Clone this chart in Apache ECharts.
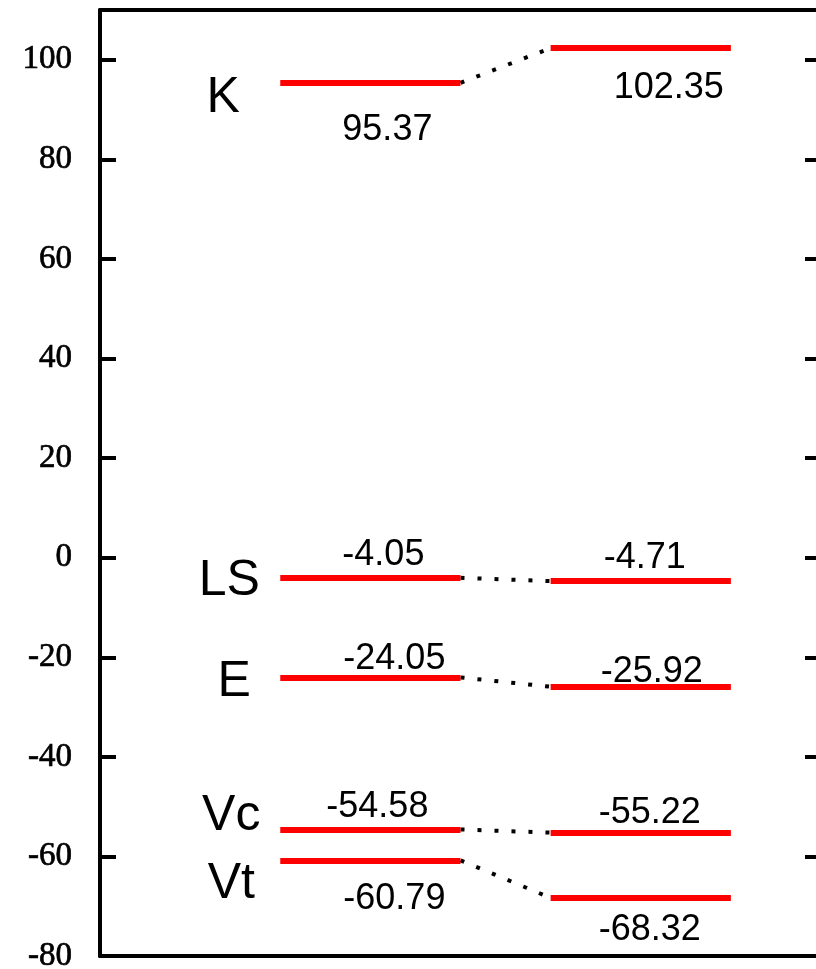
<!DOCTYPE html>
<html>
<head>
<meta charset="utf-8">
<style>
  html, body { margin: 0; padding: 0; background: #fff; }
  #chart { width: 816px; height: 969px; }
</style>
<script src="https://cdn.jsdelivr.net/npm/echarts@6/dist/echarts.min.js"></script>
</head>
<body>
<div id="chart"></div>
<script>
// Energy levels of each state, before and after
const states = ['K', 'LS', 'E', 'Vc', 'Vt'];
const before = [95.37, -4.05, -24.05, -54.58, -60.79];
const after = [102.35, -4.71, -25.92, -55.22, -68.32];
const yTicks = [-80, -60, -40, -20, 0, 20, 40, 60, 80, 100];

// Horizontal extent of the two level columns (x-axis units)
const spanBefore = [2, 4];
const spanAfter = [5, 7];

// Label placement (pixel offsets from the centre of each level)
const beforeLabelOffset = [[17, 47], [13, -23], [24, -18], [7, -22], [24, 39]];
const afterLabelOffset = [[28, 40], [4, -23], [11, -15], [9, -20], [9, 32]];
// State names, offset from the left end of the "before" level
const stateLabelOffset = [[-57, 15], [-51, 3], [-46, 5], [-49, -13], [-49, 24]];

const TEXT_COLOR = '#000000';

const levelSegments = [];
const connectorSegments = [];
states.forEach((s, i) => {
  levelSegments.push({ coords: [[spanBefore[0], before[i]], [spanBefore[1], before[i]]] });
  levelSegments.push({ coords: [[spanAfter[0], after[i]], [spanAfter[1], after[i]]] });
  connectorSegments.push({ coords: [[spanBefore[1], before[i]], [spanAfter[0], after[i]]] });
});

const midBefore = (spanBefore[0] + spanBefore[1]) / 2;
const midAfter = (spanAfter[0] + spanAfter[1]) / 2;

// Text marks: [x, y, text, dx, dy, fontSize]
const textMarks = [];
states.forEach((s, i) => {
  textMarks.push([spanBefore[0], before[i], s, stateLabelOffset[i][0], stateLabelOffset[i][1], 50]);
  textMarks.push([midBefore, before[i], before[i].toFixed(2), beforeLabelOffset[i][0], beforeLabelOffset[i][1], 36]);
  textMarks.push([midAfter, after[i], after[i].toFixed(2), afterLabelOffset[i][0], afterLabelOffset[i][1], 36]);
});

const axisLine = { show: true, onZero: false, lineStyle: { color: '#000', width: 4 } };

const chart = echarts.init(document.getElementById('chart'), null, { renderer: 'canvas' });
chart.setOption({
  backgroundColor: '#fff',
  animation: false,
  grid: { left: 100, right: -5, top: 10, bottom: 13, containLabel: false, outerBoundsMode: 'none' },
  xAxis: [
    { type: 'value', min: 0, max: 8, position: 'bottom', axisLine: axisLine,
      axisTick: { show: false }, axisLabel: { show: false }, splitLine: { show: false } },
    { type: 'value', min: 0, max: 8, position: 'top', axisLine: axisLine,
      axisTick: { show: false }, axisLabel: { show: false }, splitLine: { show: false } }
  ],
  yAxis: [
    { type: 'value', min: -80, max: 110, interval: 20, position: 'left',
      axisLine: axisLine,
      axisTick: { show: true, inside: true, length: 16, customValues: yTicks,
        lineStyle: { color: '#000', width: 4 } },
      axisLabel: { show: true, customValues: yTicks, margin: 28, color: TEXT_COLOR,
        fontFamily: 'Liberation Serif', fontSize: 33,
        textBorderColor: TEXT_COLOR, textBorderWidth: 0.7 },
      splitLine: { show: false } },
    { type: 'value', min: -80, max: 110, interval: 20, position: 'right',
      axisLine: axisLine,
      axisTick: { show: true, inside: true, length: 16, customValues: yTicks,
        lineStyle: { color: '#000', width: 4 } },
      axisLabel: { show: false },
      splitLine: { show: false } }
  ],
  series: [
    {
      type: 'lines', coordinateSystem: 'cartesian2d', xAxisIndex: 0, yAxisIndex: 0,
      silent: true, z: 2,
      lineStyle: { color: '#000', width: 4, type: [4, 13], cap: 'butt', opacity: 1 },
      data: connectorSegments
    },
    {
      type: 'lines', coordinateSystem: 'cartesian2d', xAxisIndex: 0, yAxisIndex: 0,
      silent: true, z: 3,
      lineStyle: { color: '#ff0000', width: 6, type: 'solid', cap: 'butt', opacity: 1 },
      data: levelSegments
    },
    {
      // level values and state names
      type: 'custom', coordinateSystem: 'cartesian2d', xAxisIndex: 0, yAxisIndex: 0,
      silent: true, z: 4,
      data: textMarks,
      renderItem: function (params, api) {
        const p = api.coord([api.value(0), api.value(1)]);
        const item = textMarks[params.dataIndex];
        return {
          type: 'text',
          x: p[0] + item[3],
          y: p[1] + item[4],
          style: {
            text: item[2],
            fill: TEXT_COLOR,
            font: item[5] + 'px "Liberation Sans", Arial, sans-serif',
            align: 'center',
            verticalAlign: 'middle'
          }
        };
      }
    }
  ]
});
</script>
</body>
</html>
